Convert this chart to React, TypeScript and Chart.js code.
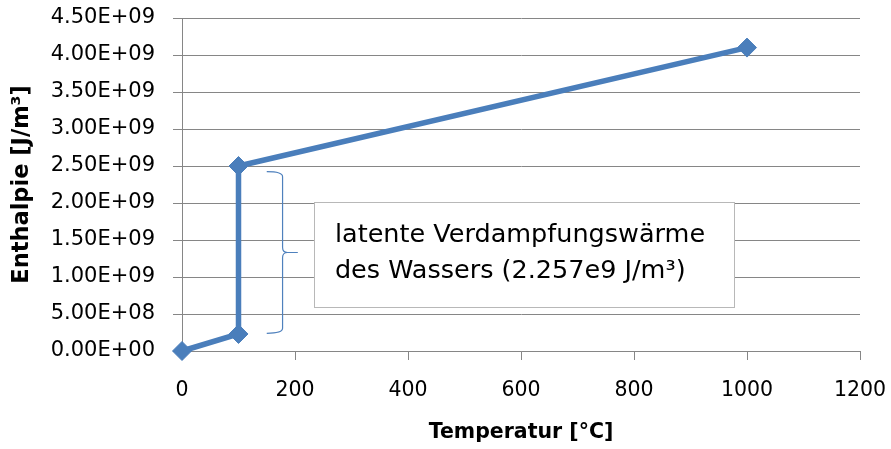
import React, { useEffect, useRef } from "react";
import { Chart, registerables } from "chart.js";

Chart.register(...registerables);

// Data
const temperatures = [0, 100, 100, 1000];
const enthalpies = [0, 2.3e8, 2.5e9, 4.1e9];
const xTicks = { min: 0, max: 1200, step: 200 };
const yTicks = { min: 0, max: 4.5e9, step: 5e8 };
const xTitle = "Temperatur [°C]";
const yTitle = "Enthalpie [J/m³]";
const noteLines = ["latente Verdampfungswärme", "des Wassers (2.257e9 J/m³)"];
// annotation placement in data units
const braceX = [150, 178, 205]; // left end, spine, tip
const braceY = [2.39e8, 2.423e9]; // bottom, top
const noteBoxX = [233.5, 977.5];
const noteBoxY = [6.05e8, 2.018e9];

const FONT = "'DejaVu Sans', sans-serif";

function fmtSci(v: number): string {
  const [m, e] = v.toExponential(2).split("e");
  const sign = e[0] === "-" ? "-" : "+";
  const digits = e.replace(/[+-]/, "").padStart(2, "0");
  return `${m}E${sign}${digits}`;
}

const annotationPlugin = {
  id: "braceNote",
  afterDatasetsDraw(chart: any) {
    const { ctx, scales } = chart;
    const xs = scales.x;
    const ys = scales.y;
    ctx.save();
    // brace
    const xl = xs.getPixelForValue(braceX[0]);
    const xv = xs.getPixelForValue(braceX[1]);
    const xt = xs.getPixelForValue(braceX[2]);
    const yb = ys.getPixelForValue(braceY[0]);
    const yt = ys.getPixelForValue(braceY[1]);
    const ym = (yb + yt) / 2;
    const r = 5;
    ctx.strokeStyle = "#4f81bd";
    ctx.lineWidth = 1.2;
    ctx.beginPath();
    ctx.moveTo(xl, yt);
    ctx.quadraticCurveTo(xv, yt, xv, yt + r);
    ctx.lineTo(xv, ym - r);
    ctx.quadraticCurveTo(xv, ym, xv + r, ym);
    ctx.lineTo(xt, ym);
    ctx.moveTo(xv + r, ym);
    ctx.quadraticCurveTo(xv, ym, xv, ym + r);
    ctx.lineTo(xv, yb - r);
    ctx.quadraticCurveTo(xv, yb, xl, yb);
    ctx.stroke();

    // note box
    const bx0 = xs.getPixelForValue(noteBoxX[0]);
    const bx1 = xs.getPixelForValue(noteBoxX[1]);
    const by0 = ys.getPixelForValue(noteBoxY[1]);
    const by1 = ys.getPixelForValue(noteBoxY[0]);
    ctx.fillStyle = "#ffffff";
    ctx.fillRect(bx0, by0, bx1 - bx0, by1 - by0);
    ctx.strokeStyle = "#b8b8b8";
    ctx.lineWidth = 1;
    ctx.strokeRect(Math.round(bx0) + 0.5, Math.round(by0) + 0.5, Math.round(bx1 - bx0), Math.round(by1 - by0));
    ctx.fillStyle = "#000000";
    ctx.font = `25.5px ${FONT}`;
    ctx.textBaseline = "alphabetic";
    ctx.textAlign = "left";
    const lh = 36.7;
    noteLines.forEach((line, i) => {
      ctx.fillText(line, bx0 + 21, by0 + 40 + i * lh);
    });
    ctx.restore();
  },
};

export default function App() {
  const canvasRef = useRef<HTMLCanvasElement | null>(null);

  useEffect(() => {
    if (!canvasRef.current) return;
    const chart = new Chart(canvasRef.current, {
      type: "line",
      data: {
        datasets: [
          {
            data: temperatures.map((t, i) => ({ x: t, y: enthalpies[i] })),
            borderColor: "#4a7ebb",
            backgroundColor: "#4a7ebb",
            borderWidth: 5.5,
            pointStyle: "rectRot",
            pointRadius: 9.5,
            pointBorderWidth: 1,
            pointBorderColor: "#4a7ebb",
            pointBackgroundColor: "#4a7ebb",
            tension: 0,
            fill: false,
            clip: false,
          },
        ],
      },
      options: {
        animation: false,
        responsive: true,
        maintainAspectRatio: false,
        layout: { padding: { left: 9, right: 31, top: 18, bottom: 4 } },
        plugins: {
          legend: { display: false },
          tooltip: { enabled: false },
        },
        scales: {
          x: {
            type: "linear",
            min: xTicks.min,
            max: xTicks.max,
            afterFit: (scale: any) => {
              scale.height = 94;
              scale.paddingLeft = 0;
              scale.paddingRight = 0;
            },
            ticks: {
              stepSize: xTicks.step,
              color: "#000",
              font: { family: FONT, size: 20.5 },
              padding: 18,
              maxRotation: 0,
              callback: (v: any) => String(v),
            },
            grid: {
              display: true,
              drawOnChartArea: false,
              drawTicks: true,
              tickLength: 9,
              color: "#868686",
            },
            border: { display: true, color: "#868686" },
            title: {
              display: true,
              text: xTitle,
              color: "#000",
              font: { family: FONT, size: 20.5, weight: "bold" },
              padding: { top: 0, bottom: 0 },
            },
          },
          y: {
            type: "linear",
            min: yTicks.min,
            max: yTicks.max,
            afterFit: (scale: any) => {
              scale.width = 173;
              scale.paddingTop = 0;
              scale.paddingBottom = 0;
            },
            ticks: {
              stepSize: yTicks.step,
              color: "#000",
              font: { family: FONT, size: 21 },
              padding: 18,
              callback: (v: any) => fmtSci(Number(v)),
            },
            grid: {
              color: "#868686",
              tickLength: 9,
              drawTicks: true,
            },
            border: { display: true, color: "#868686" },
            title: {
              display: true,
              text: yTitle,
              color: "#000",
              font: { family: FONT, size: 22.5, weight: "bold" },
              padding: { top: 0, bottom: 0 },
            },
          },
        },
      },
      plugins: [annotationPlugin],
    });
    return () => chart.destroy();
  }, []);

  return (
    <div style={{ position: "absolute", left: 0, top: 0, width: 891, height: 449 }}>
      <canvas ref={canvasRef} />
    </div>
  );
}
